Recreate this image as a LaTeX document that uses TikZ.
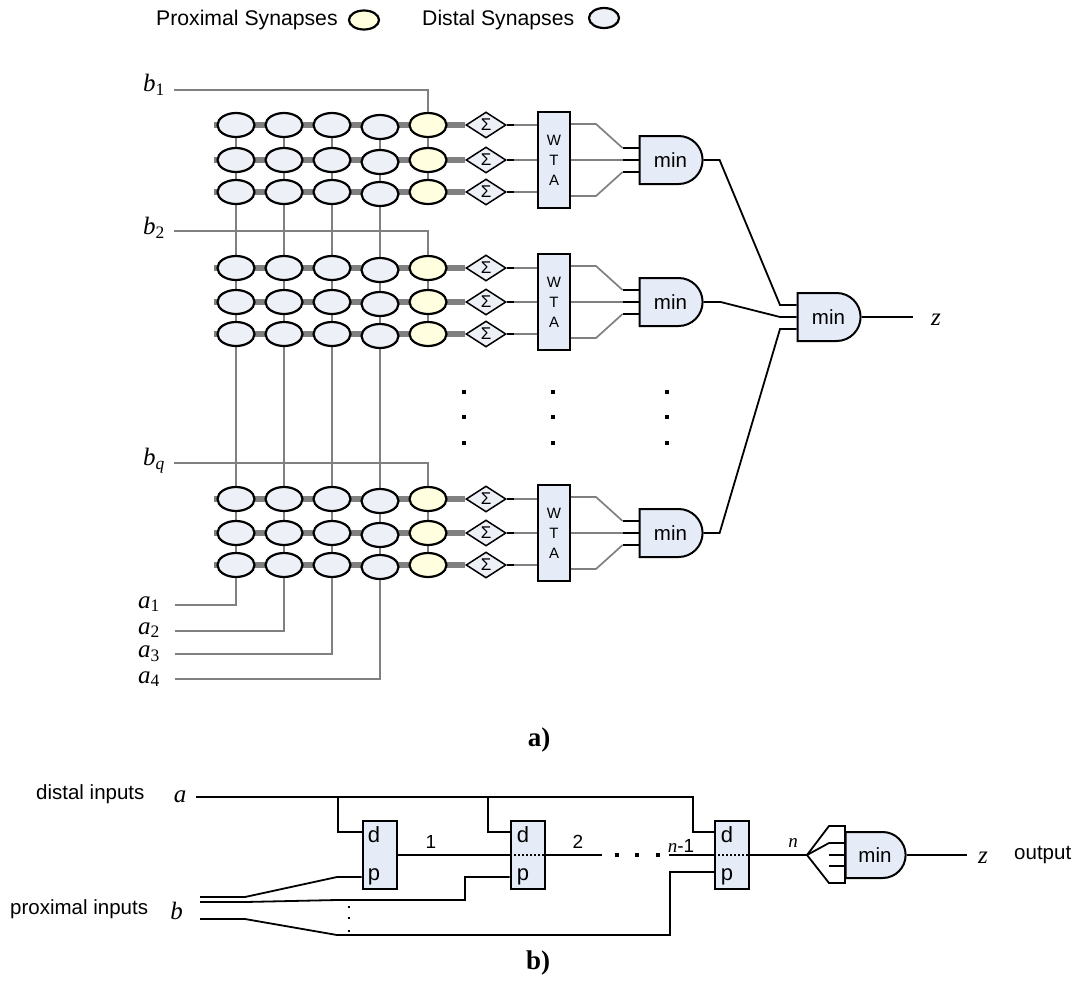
\documentclass[tikz,border=0pt]{standalone}
\usepackage{fontspec}
\setmainfont{Liberation Serif}
\setsansfont{Liberation Sans}
\usetikzlibrary{shapes.geometric,shapes.misc,backgrounds,calc}
\definecolor{synblue}{HTML}{EDF0F7}
\definecolor{synyellow}{HTML}{FFFFDF}
\definecolor{boxblue}{HTML}{E6ECF7}
\definecolor{wiregray}{HTML}{808080}
\tikzset{
    syn/.style={draw, ellipse, line width=2.2pt, fill=synblue, minimum width=37, minimum height=24, inner sep=0pt},
    synprox/.style={syn, fill=synyellow},
    sumbox/.style={draw, diamond, line width=1.5pt, fill=synblue, minimum width=40, minimum height=26, inner sep=0pt, font=\sffamily\fontsize{17}{17}\selectfont},
    wtabox/.style={draw, line width=2pt, fill=boxblue, minimum width=32, minimum height=96, inner sep=0pt, align=center, font=\sffamily\fontsize{15}{20}\selectfont},
    mingate/.style={draw, rounded rectangle, rounded rectangle west arc=none, line width=2pt, fill=boxblue, minimum width=63, minimum height=48, inner sep=0pt, font=\sffamily\fontsize{20.5}{20.5}\selectfont},
    bitbox/.style={draw, line width=2pt, fill=boxblue, minimum width=34, minimum height=68, inner sep=0pt},
    greyline/.style={wiregray, line width=1.7pt},
    barline/.style={wiregray, line width=6pt},
    wire/.style={line width=1.8pt},
    dotmark/.style={fill=black, rectangle, minimum size=3.4pt, inner sep=0pt},
    sanslabel/.style={font=\sffamily\fontsize{20.5}{20.5}\selectfont, inner sep=0pt},
    varlabel/.style={font=\rmfamily\itshape\fontsize{25}{25}\selectfont, inner sep=0pt},
    partlabel/.style={font=\rmfamily\bfseries\fontsize{27}{27}\selectfont, inner sep=0pt}
}
\begin{document}
\begin{tikzpicture}[x=1pt, y=-1pt]
    \useasboundingbox (0,0) rectangle (1076,991);

    % Legend
    \node[sanslabel, font=\sffamily\fontsize{21.2}{21.2}\selectfont, anchor=west] (legprox) at (156,20) {Proximal Synapses};
    \node[synprox, minimum width=30, minimum height=19] (legproxsyn) at (364,20) {};
    \node[sanslabel, font=\sffamily\fontsize{21.2}{21.2}\selectfont, anchor=west] (legdist) at (422,20) {Distal Synapses};
    \node[syn, minimum width=30, minimum height=20] (legdistsyn) at (604,18) {};

    % Synapse groups
    \foreach \g/\ya/\yb/\yc/\ym in {1/125/160/192/160, 2/268/302/334/302, 3/499/533/565/533} {
        \foreach \r/\y in {1/\ya, 2/\yb, 3/\yc} {
            \foreach \c/\x/\d in {1/236/0, 2/284/0, 3/332/0, 4/380/2} {
                \node[syn] (s-\g-\r-\c) at (\x,{\y+\d}) {};
            }
            \node[synprox] (s-\g-\r-5) at (428,\y) {};
            \node[sumbox] (sum-\g-\r) at (486,\y) {Σ};
            \begin{scope}[on background layer]
                \draw[barline] ([xshift=-2pt]s-\g-\r-1.west) -- (sum-\g-\r.west);
            \end{scope}
        }
        \begin{scope}[on background layer]
            \draw[greyline] (s-\g-1-5) -- (s-\g-3-5);
        \end{scope}
        % WTA and min gate of the group
        \node[wtabox] (wta-\g) at (554,\ym) {W\\T\\A};
        \node[mingate] (gate-\g) at (670.5,\ym) {min};
        \coordinate (in-\g-1) at ($(gate-\g.west)+(-16,-12)$);
        \coordinate (in-\g-2) at ($(gate-\g.west)+(-16,0)$);
        \coordinate (in-\g-3) at ($(gate-\g.west)+(-16,12)$);
        \foreach \r in {1,2,3} {
            \draw[greyline] (sum-\g-\r.east) -- (wta-\g.west |- sum-\g-\r.east);
            \draw[wire] (sum-\g-\r.east) -- ++(7,0);
            \draw[wire] (in-\g-\r) -- (gate-\g.west |- in-\g-\r);
        }
        \draw[greyline] ($(wta-\g.east)+(0,-36)$) -- ++(25,0) -- (in-\g-1);
        \draw[greyline] (wta-\g.east) -- (in-\g-2);
        \draw[greyline] ($(wta-\g.east)+(0,36)$) -- ++(25,0) -- (in-\g-3);
    }

    % Lines through the columns
    \begin{scope}[on background layer]
        \foreach \c in {1,2,3,4} {
            \draw[greyline] (s-1-1-\c) -- (s-3-3-\c);
        }
    \end{scope}

    % Inputs b
    \node[varlabel] (blab1) at (154,85) {b\textsubscript{\upshape 1}};
    \node[varlabel] (blab2) at (154,228) {b\textsubscript{\upshape 2}};
    \node[varlabel] (blab3) at (154,461) {b\textsubscript{q}};
    \coordinate (bin1) at (174,90);
    \coordinate (bin2) at (174,231);
    \coordinate (bin3) at (174,463);
    \draw[greyline] (bin1) -| (s-1-1-5);
    \draw[greyline] (bin2) -| (s-2-1-5);
    \draw[greyline] (bin3) -| (s-3-1-5);

    % Inputs a
    \foreach \c/\y/\ly in {1/605/604, 2/631/630, 3/654/654, 4/679/679} {
        \node[varlabel] (alab\c) at (149,\ly) {a\textsubscript{\upshape\c}};
        \coordinate (ain\c) at (175,\y);
        \draw[greyline] (ain\c) -| (s-3-3-\c);
    }

    % Dots between groups
    \foreach \x in {464,553,667} {
        \foreach \y in {392,417,443} {
            \node[dotmark] (dot-\x-\y) at (\x,\y) {};
        }
    }

    % Output gate
    \node[mingate] (gateout) at (828.5,317) {min};
    \coordinate (inout1) at (780,305);
    \coordinate (inout2) at (780,317);
    \coordinate (inout3) at (780,329);
    \coordinate (zout) at (913,317);
    \node[varlabel] (zlab) at (936,320) {z};
    \draw[wire] (gate-1.east) -- ++(16,0) -- (inout1) -- (gateout.west |- inout1);
    \draw[wire] (gate-2.east) -- ++(17,0) -- (inout2) -- (gateout.west |- inout2);
    \draw[wire] (gate-3.east) -- ++(16,0) -- (inout3) -- (gateout.west |- inout3);
    \draw[wire] (gateout.east) -- (zout);

    \node[partlabel] (parta) at (539,740) {a)};

    % Part b, labels
    \node[sanslabel, anchor=west] (distlab) at (36,794) {distal inputs};
    \node[varlabel] (alab) at (180,797) {a};
    \node[sanslabel, anchor=west] (proxlab) at (10,909) {proximal inputs};
    \node[varlabel] (blab) at (176.5,911) {b};

    % Part b, chain
    \node[bitbox] (box1) at (379.5,855) {};
    \node[bitbox] (box2) at (527.5,855) {};
    \node[bitbox] (box3) at (732,855) {};
    \draw[wire, dash pattern=on 2pt off 2pt] (box2.west) -- (box2.east);
    \draw[wire, dash pattern=on 2pt off 2pt] (box3.west) -- (box3.east);
    \foreach \n/\x in {1/374, 2/523, 3/727} {
        \node[sanslabel, font=\sffamily\fontsize{22}{22}\selectfont] (dlab\n) at (\x,835) {d};
        \node[sanslabel, font=\sffamily\fontsize{22}{22}\selectfont] (plab\n) at (\x,877) {p};
    }
    \coordinate (ain) at (196,797);
    \coordinate (dtap1) at (338,832);
    \coordinate (dtap2) at (488,832);
    \coordinate (dtap3) at (693,832);
    \draw[wire] (ain) -| (dtap3) -- (box3.west |- dtap3);
    \draw[wire] (ain -| dtap1) -- (dtap1) -- (box1.west |- dtap1);
    \draw[wire] (ain -| dtap2) -- (dtap2) -- (box2.west |- dtap2);

    \coordinate (pin1) at (200,897);
    \coordinate (pin2) at (200,902);
    \coordinate (pin3) at (200,919);
    \draw[wire] (pin1) -- (245,897) -- (337,877) -- (box1.west |- 0,877);
    \draw[wire] (pin2) -- (245,902) -- (337,900) -- (465,900) -- (465,877) -- (box2.west |- 0,877);
    \draw[wire] (pin3) -- (245,919) -- (337,935) -- (670,935) -- (670,872) -- (box3.west |- 0,872);
    \foreach \y in {907,918,931} {
        \node[dotmark, minimum size=2.4pt] (pdot\y) at (349,\y) {};
    }

    \coordinate (link2) at (602,855);
    \coordinate (link3) at (669,855);
    \draw[wire] (box1.east) -- (box2.west);
    \draw[wire] (box2.east) -- (link2);
    \draw[wire] (link3) -- (box3.west);
    \node[sanslabel, font=\sffamily\fontsize{19}{19}\selectfont] (lab1) at (431,842) {1};
    \node[sanslabel, font=\sffamily\fontsize{19}{19}\selectfont] (lab2) at (578,842) {2};
    \foreach \x in {617,637,658} {
        \node[dotmark, minimum size=4pt] (ldot\x) at (\x,855) {};
    }
    \node[sanslabel, font=\sffamily\fontsize{19}{19}\selectfont] (labn1) at (681,846) {\rmfamily\itshape n\sffamily\upshape-1};

    % Part b, fan and last gate
    \node[mingate, minimum width=60, minimum height=46] (gatefan) at (875,855) {min};
    \coordinate (fan) at (807,855);
    \coordinate (fanout) at (967,855);
    \node[varlabel, font=\rmfamily\itshape\fontsize{19}{19}\selectfont] (nlab) at (793,843) {n};
    \draw[wire] (box3.east) -- (fan);
    \draw[wire] (fan) -- (829,826) -- (845,826) -- (845,883) -- (829,883) -- cycle;
    \draw[wire] (fan) -- (829,843) -- (845,843);
    \draw[wire] (829,855) -- (845,855);
    \draw[wire] (829,866) -- (845,866);
    \draw[wire] (gatefan.east) -- (fanout);
    \node[varlabel] (zlabb) at (983,858) {z};
    \node[sanslabel, anchor=west] (outlab) at (1014,855) {output};

    \node[partlabel] (partb) at (538,963) {b)};
\end{tikzpicture}
\end{document}
